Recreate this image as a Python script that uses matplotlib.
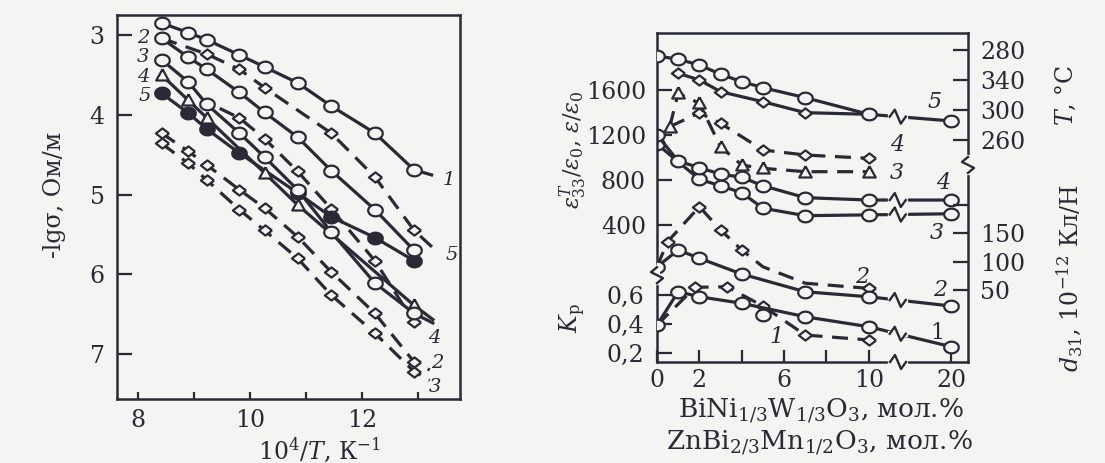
import numpy as np
import matplotlib
matplotlib.use('Agg')
import matplotlib.pyplot as plt
from matplotlib.lines import Line2D
from matplotlib.transforms import IdentityTransform

plt.rcParams['font.family'] = ['DejaVu Serif']
plt.rcParams['mathtext.fontset'] = 'dejavuserif'

INK = '#2a2a36'
BG = '#f4f4f2'
W, H = 1105, 463

# ---- left panel: -lg(sigma) vs 10^4/T ----
inv_T = [8.42, 8.9, 9.23, 9.81, 10.26, 10.85, 11.45, 12.23, 12.93]
c1_x = inv_T + [13.27]
c1_y = [2.85, 2.97, 3.06, 3.25, 3.40, 3.60, 3.89, 4.23, 4.69, 4.76]
c2_y = [3.04, 3.28, 3.43, 3.72, 3.97, 4.28, 4.70, 5.19, 5.70]
c3_x = inv_T + [13.29]
c3_y = [3.31, 3.59, 3.87, 4.23, 4.53, 4.94, 5.47, 6.11, 6.49, 6.62]
t4_x = [8.42, 8.9, 9.23, 10.26, 10.85, 12.93, 13.29]
t4_y = [3.50, 3.82, 4.04, 4.73, 5.13, 6.39, 6.58]
f5_x = [8.42, 8.9, 9.23, 9.81, 10.85, 11.45, 12.23, 12.93]
f5_y = [3.73, 3.98, 4.18, 4.48, 4.98, 5.28, 5.54, 5.83]
d1_x = [8.42, 9.23, 9.81, 10.26, 11.45, 12.23, 12.93, 13.27]
d1_y = [3.04, 3.24, 3.43, 3.66, 4.23, 4.78, 5.45, 5.67]
d2_x = [9.46, 9.81, 10.26, 10.85, 11.45, 12.23, 12.93]
d2_y = [3.92, 4.04, 4.30, 4.71, 5.18, 5.83, 6.60]
d3_x = inv_T + [13.21]
d3_y = [4.23, 4.46, 4.63, 4.94, 5.17, 5.53, 5.97, 6.49, 7.10, 7.20]
d4_x = inv_T + [13.21]
d4_y = [4.36, 4.61, 4.82, 5.19, 5.45, 5.80, 6.26, 6.74, 7.22, 7.33]

# ---- right panel: properties vs additive content, mol.% ----
T_c_x = [0, 1, 2, 3, 4, 5, 7, 10, 20]
T_c = [372.7, 368.3, 360.7, 348.3, 338.4, 330.4, 317.1, 294.9, 286.0]
T_d_x = [1, 2, 3, 5, 7, 10]
T_d = [349.6, 340.7, 325.1, 311.7, 297.1, 294.9]
eps4_x = [0, 1, 2, 3, 4, 5, 7, 10, 20]
eps4 = [1200, 969, 909, 853, 824, 749, 643, 622, 622]
eps3_x = [0, 2, 3, 4, 5, 7, 10, 20]
eps3 = [1120, 806, 749, 687, 549, 483, 490, 500]
eps_tri_x = [0.6, 1, 2, 3, 4, 5, 7, 10]
eps_tri = [1274, 1571, 1482, 1096, 933, 904, 874, 874]
eps_dia_x = [0.6, 2, 3, 5, 7, 10]
eps_dia = [1274, 1398, 1304, 1067, 1022, 993]
d31_c_x = [0, 1, 2, 4, 7, 10, 20]
d31_c = [91.1, 120.6, 106.0, 78.2, 46.9, 38.1, 21.7]
d31_d_x = [0, 0.5, 2, 3, 4, 5, 7, 10]
d31_d = [91.1, 135.3, 197.0, 156.0, 120.6, 91.0, 62.0, 52.9]
kp_c_x = [0, 1, 2, 4, 7, 10, 20]
kp_c = [0.393, 0.623, 0.588, 0.543, 0.450, 0.381, 0.243]
kp_d_x = [0, 1.8, 3.3, 5, 7, 10]
kp_d = [0.393, 0.653, 0.657, 0.524, 0.324, 0.290]
kp_extra_x = [5]
kp_extra = [0.462]

# stretched markers (the scan is wider than tall)
tt = np.linspace(0, 2 * np.pi, 41)
CIRC = list(zip(1.25 * np.cos(tt), np.sin(tt)))
DIAM = [(1.3, 0), (0, 1), (-1.3, 0), (0, -1), (1.3, 0)]
TRI = [(0, 1), (-1, -0.8), (1, -0.8), (0, 1)]
MS_C, MS_D, MS_T = 10.5, 9.5, 9


def curve(ax, x, y, mk, ms, dashed=False, filled=False, every=None):
    ax.plot(x, y, color=INK, lw=2.3, ls=(0, (5, 3)) if dashed else '-',
            marker=mk, ms=ms, mfc=INK if filled else BG, mec=INK, mew=1.6,
            markevery=every, solid_capstyle='butt', dash_capstyle='butt')


fig = plt.figure(figsize=(W / 100, H / 100), dpi=100, facecolor=BG)


def ftext(px, py, s, **kw):
    fig.text(px / W, 1 - py / H, s, color=INK, **kw)


def disp_line(xs, ys, **kw):
    fig.add_artist(Line2D(xs, ys, transform=IdentityTransform(), **kw))


# ===== left panel =====
axL = fig.add_axes([117 / W, (H - 399) / H, 343 / W, 384 / H], facecolor=BG)
axL.set_xlim(7.625, 13.75)
axL.set_ylim(7.564, 2.749)

curve(axL, d3_x, d3_y, DIAM, MS_D, dashed=True, every=list(range(9)))
curve(axL, d4_x, d4_y, DIAM, MS_D, dashed=True, every=list(range(9)))
curve(axL, d2_x, d2_y, DIAM, MS_D, dashed=True, every=list(range(1, 7)))
curve(axL, d1_x, d1_y, DIAM, MS_D, dashed=True, every=list(range(1, 7)))
curve(axL, f5_x, f5_y, CIRC, MS_C, filled=True)
curve(axL, t4_x, t4_y, TRI, MS_T, every=list(range(6)))
curve(axL, c3_x, c3_y, CIRC, MS_C, every=list(range(9)))
curve(axL, inv_T, c2_y, CIRC, MS_C)
curve(axL, c1_x, c1_y, CIRC, MS_C, every=list(range(9)))

axL.set_xticks([8, 10, 12])
axL.set_xticks([9, 11, 13], minor=True)
axL.set_yticks([3, 4, 5, 6, 7])
axL.tick_params(which='both', axis='x', direction='in', length=5, width=1.6,
                pad=7, labelsize=17, colors=INK, top=False)
axL.tick_params(axis='y', direction='in', length=11, width=1.6, pad=9,
                labelsize=17, colors=INK, right=False)
for s in axL.spines.values():
    s.set_linewidth(1.8)
    s.set_color(INK)

ftext(55, 195, '-lgσ, Ом/м', rotation=90, ha='center', va='center', size=17)
ftext(319, 450, '$10^4/T$, К$^{-1}$', ha='center', va='center', size=17)
for px, py, s in [(143, 38, '2'), (143, 57, '3'), (143, 77, '4'), (145, 96, '5'),
                  (449, 180, '1'), (452, 255, '5'), (434, 338, '4'),
                  (437, 363, '2'), (435, 387, '3')]:
    ftext(px, py, s, ha='center', va='center', size=14, style='italic')

# ===== right panel =====
def fwd(x):
    x = np.asarray(x, float)
    return np.where(x <= 10, x, 10 + (x - 10) * 0.39)


def inv(t):
    t = np.asarray(t, float)
    return np.where(t <= 10, t, 10 + (t - 10) / 0.39)


axR = fig.add_axes([657 / W, (H - 362) / H, 311 / W, 329 / H], facecolor=BG)
axR.set_xscale('function', functions=(fwd, inv))
axR.set_xlim(0, 22)
axR.set_ylim(-818, 2107)
ax_kp = axR.twinx()
ax_T = axR.twinx()
ax_d = axR.twinx()
ax_kp.set_ylim(0.138, 2.407)
ax_T.set_ylim(-35.3, 403.3)
ax_d.set_ylim(-77, 503.5)

curve(ax_kp, kp_d_x, kp_d, DIAM, MS_D, dashed=True, every=list(range(1, 6)))
curve(ax_d, d31_d_x, d31_d, DIAM, MS_D, dashed=True, every=[1, 2, 3, 4, 7])
curve(axR, eps_dia_x, eps_dia, DIAM, MS_D, dashed=True, every=list(range(1, 6)))
curve(axR, eps_tri_x, eps_tri, TRI, MS_T, dashed=True)
curve(ax_T, T_d_x, T_d, DIAM, MS_D)
curve(ax_kp, kp_c_x, kp_c, CIRC, MS_C)
ax_kp.plot(kp_extra_x, kp_extra, ls='none', marker=CIRC, ms=MS_C, mfc=BG,
           mec=INK, mew=1.6)
curve(ax_d, d31_c_x, d31_c, CIRC, MS_C)
curve(axR, eps3_x, eps3, CIRC, MS_C)
curve(axR, eps4_x, eps4, CIRC, MS_C)
curve(ax_T, T_c_x, T_c, CIRC, MS_C)

axR.set_xticks([0, 2, 4, 6, 8, 10, 20])
axR.set_xticklabels(['0', '2', '', '6', '', '10', '20'])
axR.tick_params(axis='x', direction='in', length=9, width=1.6, pad=5,
                labelsize=17, colors=INK, top=False)
axR.set_yticks([400, 800, 1200, 1600])
axR.tick_params(axis='y', direction='in', length=11, width=1.6, pad=8,
                labelsize=17, colors=INK, right=False)
ax_kp.yaxis.tick_left()
ax_kp.set_yticks([0.2, 0.4, 0.6])
ax_kp.set_yticklabels(['0,2', '0,4', '0,6'])
ax_T.set_yticks([260, 300, 340, 380])
ax_T.set_yticklabels(['260', '300', '340', '280'])
ax_d.set_yticks([50, 100, 150, 200])
ax_d.set_yticklabels(['50', '100', '150', ''])
for a in (ax_kp, ax_T, ax_d):
    a.tick_params(axis='y', direction='in', length=11, width=1.6, pad=9,
                  labelsize=17, colors=INK)
    for s in a.spines.values():
        s.set_visible(False)
for s in axR.spines.values():
    s.set_linewidth(1.8)
    s.set_color(INK)

# breaks on the curves between 10 and 20
x_brk = 13.5
for a, xs, ys in [(ax_T, T_c_x, T_c), (axR, eps4_x, eps4), (axR, eps3_x, eps3),
                  (ax_d, d31_c_x, d31_c), (ax_kp, kp_c_x, kp_c)]:
    yb = np.interp(x_brk, xs, ys)
    px, py = a.transData.transform((x_brk, yb))
    disp_line([px - 7, px + 7], [py, py], color=BG, lw=4.5)
    disp_line([px - 8, px - 3, px + 3, px + 8], [py, py + 7, py - 7, py],
              color=INK, lw=1.7)

# breaks on the frame
for fx, fy, vert in [(0, 0.264, True), (1, 0.599, True), (0.775, 0, False)]:
    px, py = axR.transAxes.transform((fx, fy))
    if vert:
        disp_line([px, px], [py - 7, py + 7], color=BG, lw=4.5)
        disp_line([px, px - 6, px + 6, px], [py + 8, py + 3, py - 3, py - 8],
                  color=INK, lw=1.7)
    else:
        disp_line([px - 7, px + 7], [py, py], color=BG, lw=4.5)
        disp_line([px - 8, px - 3, px + 3, px + 8], [py, py + 7, py - 7, py],
                  color=INK, lw=1.7)

ftext(821, 411, 'BiNi$_{1/3}$W$_{1/3}$O$_3$, мол.%', ha='center', va='center',
      size=19)
ftext(819, 443, 'ZnBi$_{2/3}$Mn$_{1/2}$O$_3$, мол.%', ha='center', va='center',
      size=19)
ftext(573, 150, r'$\varepsilon^T_{33}/\varepsilon_0$, $\varepsilon/\varepsilon_0$',
      rotation=90, ha='center', va='center', size=16)
ftext(573, 318, '$K_\\mathrm{p}$', rotation=90, ha='center', va='center', size=17)
ftext(1066, 95, '$T$, °C', rotation=90, ha='center', va='center', size=17)
ftext(1070, 278, '$d_{31}$, 10$^{-12}$ Кл/Н', rotation=90, ha='center',
      va='center', size=17)
for px, py, s in [(935, 102, '5'), (897, 145, '4'), (897, 173, '3'),
                  (943, 183, '4'), (937, 233, '3'), (862, 277, '2'),
                  (940, 290, '2'), (777, 337, '1')]:
    ftext(px, py, s, ha='center', va='center', size=16, style='italic')
ftext(937, 333, '1', ha='center', va='center', size=16)

fig.savefig('out.png', dpi=100, facecolor=BG)
